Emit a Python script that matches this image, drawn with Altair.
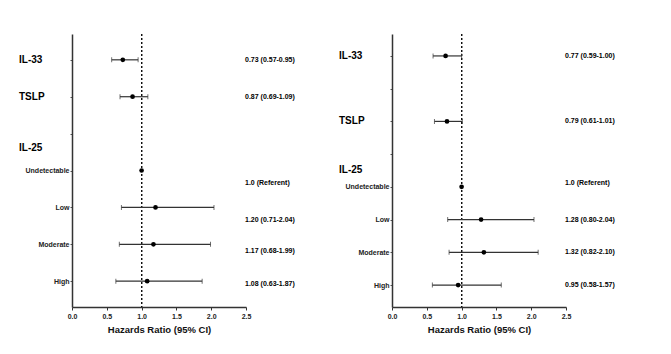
import altair as alt
import pandas as pd

# ---- data ----
left_rows = [1, 2, 4, 5, 6, 7]
left_hr = [0.73, 0.87, 1.0, 1.20, 1.17, 1.08]
left_lo = [0.57, 0.69, None, 0.71, 0.68, 0.63]
left_hi = [0.95, 1.09, None, 2.04, 1.99, 1.87]
left_text = ["0.73 (0.57-0.95)", "0.87 (0.69-1.09)", "1.0 (Referent)",
             "1.20 (0.71-2.04)", "1.17 (0.68-1.99)", "1.08 (0.63-1.87)"]
left_text_rows = [1, 2, 4.34, 5.33, 6.19, 7.09]
left_ticks = [1, 2, 3, 4, 5, 6, 7]
left_ticklabels = ["", "", "", "Undetectable", "Low", "Moderate", "High"]
left_headers = ["IL-33", "TSLP", "IL-25"]
left_header_rows = [1, 2, 3.4]

right_rows = [1, 3, 5, 6, 7, 8]
right_hr = [0.77, 0.79, 1.0, 1.28, 1.32, 0.95]
right_lo = [0.59, 0.61, None, 0.80, 0.82, 0.58]
right_hi = [1.00, 1.01, None, 2.04, 2.10, 1.57]
right_text = ["0.77 (0.59-1.00)", "0.79 (0.61-1.01)", "1.0 (Referent)",
              "1.28 (0.80-2.04)", "1.32 (0.82-2.10)", "0.95 (0.58-1.57)"]
right_text_rows = [1, 3, 4.89, 6, 7, 8]
right_ticks = [1, 2, 3, 4, 5, 6, 7, 8]
right_ticklabels = ["", "", "", "", "Undetectable", "Low", "Moderate", "High"]
right_headers = ["IL-33", "TSLP", "IL-25"]
right_header_rows = [1, 3, 4.48]

x_ticks = [0.0, 0.5, 1.0, 1.5, 2.0, 2.5]

FONT = "Liberation Sans"
W, H = 174, 273


def panel(rows, hr, lo, hi, texts, text_rows, ticks, ticklabels,
          headers, header_rows, ydomain):
    pts = pd.DataFrame({"row": rows, "hr": hr})
    ci = pd.DataFrame({"row": rows, "lo": lo, "hi": hi}).dropna()
    ann = pd.DataFrame({"row": text_rows, "txt": texts})
    hdr = pd.DataFrame({"row": header_rows, "txt": headers})

    expr_parts = []
    for t, l in zip(ticks, ticklabels):
        expr_parts.append(f"datum.value == {t} ? '{l}'")
    label_expr = " : ".join(expr_parts) + " : ''"

    yscale = alt.Scale(domain=ydomain, reverse=True, nice=False, zero=False)
    xscale = alt.Scale(domain=[0, 2.5], nice=False, zero=False)

    xaxis = alt.Axis(values=x_ticks, format=".1f", title="Hazards Ratio (95% CI)",
                     grid=False, domainColor="#333333", domainWidth=1.5,
                     tickColor="#333333", tickSize=3, labelFont=FONT,
                     labelFontSize=7, labelFontWeight="bold", labelColor="#222222",
                     labelPadding=2, labelOverlap=False, labelFlush=False,
                     titleFont=FONT, titleFontSize=9.5,
                     titleFontWeight="bold", titleColor="#111111", titlePadding=5)
    yaxis = alt.Axis(values=ticks, labelExpr=label_expr, title=None, grid=False,
                     domainColor="#333333", domainWidth=1.5, tickColor="#555555",
                     tickSize=2, labelFont=FONT, labelFontSize=7,
                     labelFontWeight="bold", labelColor="#222222", labelPadding=1,
                     labelOverlap=False, labelFlush=False)

    rule = alt.Chart(pts).mark_rule(strokeDash=[2, 2], color="#111111",
                                    strokeWidth=1).encode(
        x=alt.datum(1.0, scale=xscale, axis=xaxis))
    bars = alt.Chart(ci).mark_rule(color="#333333", strokeWidth=1.2).encode(
        x=alt.X("lo:Q", scale=xscale, axis=xaxis),
        x2="hi:Q",
        y=alt.Y("row:Q", scale=yscale, axis=yaxis))
    cap_lo = alt.Chart(ci).mark_tick(orient="vertical", size=5, thickness=1,
                                     color="#333333").encode(
        x=alt.X("lo:Q", scale=xscale, axis=xaxis),
        y=alt.Y("row:Q", scale=yscale, axis=yaxis))
    cap_hi = alt.Chart(ci).mark_tick(orient="vertical", size=5, thickness=1,
                                     color="#333333").encode(
        x=alt.X("hi:Q", scale=xscale, axis=xaxis),
        y=alt.Y("row:Q", scale=yscale, axis=yaxis))
    dots = alt.Chart(pts).mark_circle(size=22, color="#000000", opacity=1).encode(
        x=alt.X("hr:Q", scale=xscale, axis=xaxis),
        y=alt.Y("row:Q", scale=yscale, axis=yaxis))
    anns = alt.Chart(ann).mark_text(align="left", baseline="middle", font=FONT,
                                    fontSize=7, fontWeight="bold",
                                    color="#000000").encode(
        x=alt.value(W - 1), y=alt.Y("row:Q", scale=yscale, axis=yaxis),
        text="txt:N")
    hdrs = alt.Chart(hdr).mark_text(align="left", baseline="middle", font=FONT,
                                    fontSize=10, fontWeight="bold",
                                    color="#000000").encode(
        x=alt.value(-53), y=alt.Y("row:Q", scale=yscale, axis=yaxis),
        text="txt:N")
    return alt.layer(rule, bars, cap_lo, cap_hi, dots, anns, hdrs).properties(
        width=W, height=H)


left = panel(left_rows, left_hr, left_lo, left_hi, left_text, left_text_rows,
             left_ticks, left_ticklabels, left_headers, left_header_rows,
             [0.3, 7.7])
right = panel(right_rows, right_hr, right_lo, right_hi, right_text,
              right_text_rows, right_ticks, right_ticklabels, right_headers,
              right_header_rows, [0.33, 8.67])

chart = alt.hconcat(left, right, spacing=146, bounds="flush").properties(
    padding={"left": 19, "top": 33, "right": 5, "bottom": 5},
    background="white"
).configure_view(stroke=None).configure_axis(
    labelOverlap=False, labelFlush=False, labelBound=False
)

chart.save("out.html", embed_options={"renderer": "svg", "actions": False})
